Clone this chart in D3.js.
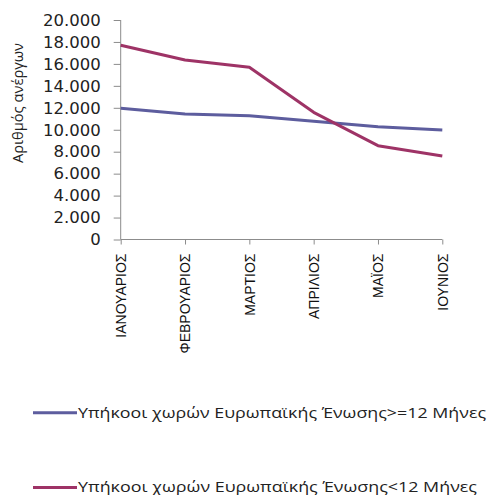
<!DOCTYPE html>
<html><head><meta charset="utf-8">
<script src="https://cdn.jsdelivr.net/npm/d3@7"></script>
<style>body{margin:0;background:#fff}svg{display:block}</style>
</head><body>
<svg id="c" width="487" height="495"></svg>
<script>
const months = ["ΙΑΝΟΥΑΡΙΟΣ","ΦΕΒΡΟΥΑΡΙΟΣ","ΜΑΡΤΙΟΣ","ΑΠΡΙΛΙΟΣ","ΜΑΪΟΣ","ΙΟΥΝΙΟΣ"];
const seriesNames = ["Υπήκοοι χωρών Ευρωπαϊκής Ένωσης>=12 Μήνες","Υπήκοοι χωρών Ευρωπαϊκής Ένωσης<12 Μήνες"];
const longTerm = [11950, 11440, 11280, 10770, 10280, 9980];
const shortTerm = [17700, 16350, 15690, 11590, 8550, 7610];
const yTicks = [0,2000,4000,6000,8000,10000,12000,14000,16000,18000,20000];
const yTitle = "Αριθμός ανέργων";
const colors = ["#5d5d9e","#9e3366"];

const svg = d3.select("#c");
const x = d3.scalePoint().domain(months).range([120.7, 442.3]);
const y = d3.scaleLinear().domain([0,20000]).range([239.5, 20]);
const fmt = v => d3.format(",")(v).replace(/,/g,".");

const axisColor = "#8c8c8c";
const yAxis = svg.append("g").attr("transform","translate(120.7,0)")
  .call(d3.axisLeft(y).tickValues(yTicks).tickSize(7).tickPadding(13).tickFormat(fmt));
yAxis.selectAll("text").attr("font-family","DejaVu Sans, Verdana, sans-serif").attr("font-size","16.5px").attr("fill","#222");
yAxis.selectAll("line, path").attr("stroke",axisColor);
yAxis.select(".domain").attr("d","M0,20V239.5");

const xAxis = svg.append("g").attr("transform","translate(0,239.5)")
  .call(d3.axisBottom(x).tickSize(5).tickFormat(d=>d));
xAxis.selectAll("line, path").attr("stroke",axisColor);
xAxis.select(".domain").attr("d","M120.7,0H442.3");
xAxis.selectAll("text")
  .attr("font-family","Liberation Sans Narrow, Arial Narrow, sans-serif")
  .attr("font-size","14px").attr("fill","#111")
  .attr("text-anchor","end").attr("dy","0.35em")
  .attr("transform","translate(0,14) rotate(-90)").attr("x",0).attr("y",0);

svg.append("text").attr("transform","translate(18,103) rotate(-90)")
  .attr("text-anchor","middle").attr("dy","0.35em").attr("font-family","Open Sans, Calibri, sans-serif")
  .attr("font-size","15px").attr("fill","#222")
  .attr("textLength",120).attr("lengthAdjust","spacingAndGlyphs").text(yTitle);

const line = d3.line().x((d,i)=>x(months[i])).y(d=>y(d));
[longTerm, shortTerm].forEach((s,i)=>{
  svg.append("path").attr("d",line(s)).attr("fill","none")
    .attr("stroke",colors[i]).attr("stroke-width",3).attr("stroke-linejoin","round");
});

const legY = [412.7, 487.5];
const legW = [408, 399];
seriesNames.forEach((n,i)=>{
  svg.append("line").attr("x1",33).attr("x2",77).attr("y1",legY[i]).attr("y2",legY[i])
    .attr("stroke",colors[i]).attr("stroke-width",3);
  svg.append("text").attr("x",78).attr("y",legY[i]).attr("dy","0.35em")
    .attr("font-family","Open Sans, Calibri, sans-serif").attr("font-size","14px")
    .attr("fill","#222").attr("textLength",legW[i]).attr("lengthAdjust","spacingAndGlyphs").text(n);
});
</script>
</body></html>
